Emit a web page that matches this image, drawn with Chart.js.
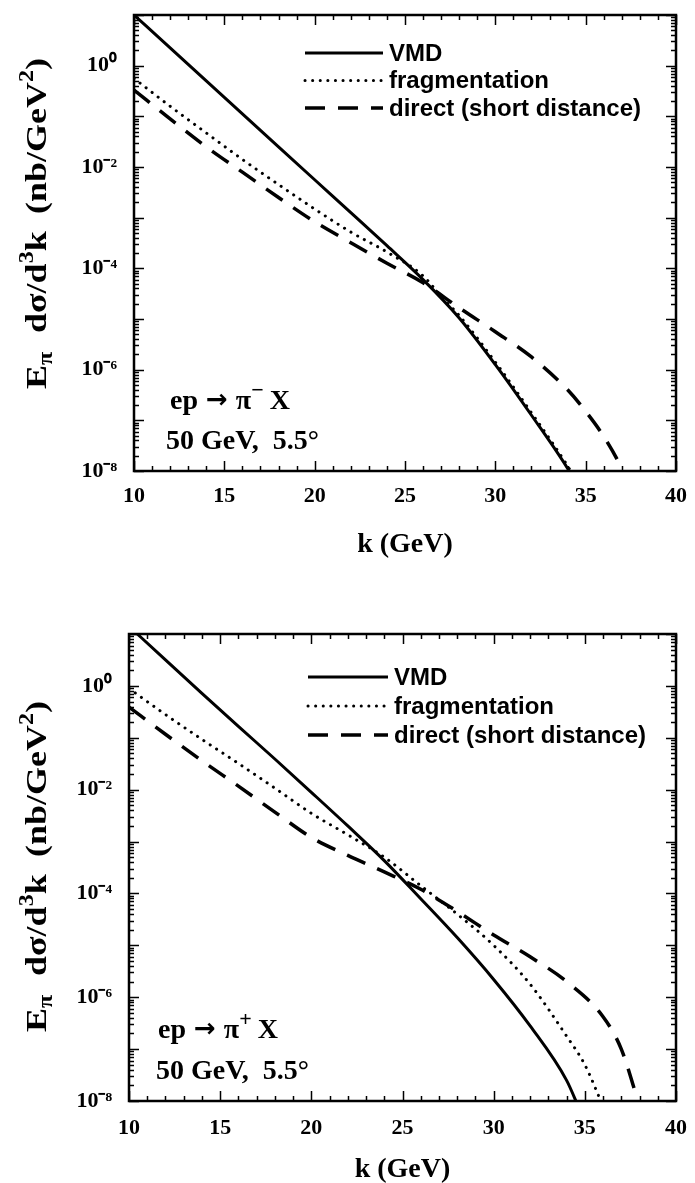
<!DOCTYPE html>
<html><head><meta charset="utf-8">
<script src="https://cdn.jsdelivr.net/npm/chart.js@4.4.0/dist/chart.umd.min.js"></script>
<style>
html,body{margin:0;padding:0;background:#fff;}
#wrap{position:relative;width:695px;height:1183px;overflow:hidden;background:#fff;}
canvas{position:absolute;left:0;}
</style></head><body>
<div id="wrap">
<canvas id="cTop" width="695" height="590" style="top:0"></canvas>
<canvas id="cBot" width="695" height="593" style="top:590px"></canvas>
</div>
<script>
// ---------- data ----------
const xTickValues = [10, 15, 20, 25, 30, 35, 40];
const yTickValues = [1e0, 1e-2, 1e-4, 1e-6, 1e-8];
const yTickLabels = ['10⁰', '10⁻²', '10⁻⁴', '10⁻⁶', '10⁻⁸'];
const seriesLabels = ['VMD', 'fragmentation', 'direct (short distance)'];
const xTitle = 'k (GeV)';
const yTitleParts = ['E', 'π', 'dσ/d', '3', 'k', '(nb/GeV', '2', ')'];
const reactionParts = ['ep', '→', 'π', 'X'];
const energyText = '50 GeV,  5.5°';

// panel 1 : ep -> pi- X
const kVmdMinus   = [10, 12, 14, 16, 18, 20, 22, 24, 26, 28, 30, 32, 34, 34.4];
const vmdMinus    = [10, 2.24, 0.50, 0.112, 0.025, 5.6e-3, 1.26e-3, 2.8e-4, 6.0e-5, 1.05e-5, 1.26e-6, 1.26e-7, 1.12e-8, 6.3e-9];
const kFragMinus  = [10, 12, 14, 16, 18, 20, 22, 24, 26, 27, 28, 30, 32, 34, 34.5];
const fragMinus   = [0.56, 0.158, 0.047, 0.0141, 4.5e-3, 1.48e-3, 5.2e-4, 2.1e-4, 7.1e-5, 2.8e-5, 1.17e-5, 1.41e-6, 1.41e-7, 1.26e-8, 6.3e-9];
const kDirMinus   = [10, 12, 14, 16, 18, 20, 22, 24, 26, 28, 30, 32, 34, 35, 36, 37, 37.3];
const dirMinus    = [0.33, 0.089, 0.025, 7.9e-3, 2.5e-3, 8.3e-4, 3.2e-4, 1.26e-4, 5.2e-5, 1.66e-5, 5.6e-6, 1.78e-6, 4.0e-7, 1.5e-7, 4.8e-8, 1.12e-8, 6.3e-9];

// panel 2 : ep -> pi+ X
const kVmdPlus    = [10, 12, 14, 16, 18, 20, 22, 24, 26, 28, 30, 32, 34, 34.7];
const vmdPlus     = [14.1, 3.16, 0.72, 0.166, 0.039, 8.9e-3, 2.0e-3, 4.3e-4, 7.9e-5, 1.41e-5, 2.2e-6, 2.8e-7, 2.5e-8, 7.0e-9];
const kFragPlus   = [10, 12, 14, 16, 18, 20, 22, 24, 26, 28, 30, 32, 34, 35, 36];
const fragPlus    = [0.89, 0.28, 0.093, 0.032, 0.0107, 3.5e-3, 1.35e-3, 5.0e-4, 1.41e-4, 4.0e-5, 1.0e-5, 1.78e-6, 1.78e-7, 5.0e-8, 7.9e-9];
const kDirPlus    = [10, 12, 14, 16, 18, 20, 22, 24, 26, 28, 30, 32, 34, 36, 37, 38];
const dirPlus     = [0.39, 0.117, 0.036, 0.0117, 3.7e-3, 1.2e-3, 5.4e-4, 2.6e-4, 1.2e-4, 4.5e-5, 1.58e-5, 6.0e-6, 2.0e-6, 4.2e-7, 1.0e-7, 7.9e-9];

// ---------- helpers ----------
const SERIF = '"Liberation Serif", "Times New Roman", serif';
const SANS = '"Liberation Sans", Arial, Helvetica, sans-serif';

function pts(ks, vs) { return ks.map((k, i) => ({x: k, y: vs[i]})); }

function makeDatasets(kv, vv, kf, vf, kd, vd) {
  const common = {pointRadius: 0, fill: false, cubicInterpolationMode: 'monotone', borderColor: '#000'};
  return [
    Object.assign({label: seriesLabels[0], data: pts(kv, vv), borderWidth: 3}, common),
    Object.assign({label: seriesLabels[1], data: pts(kf, vf), borderWidth: 3, borderDash: [0.1, 7.5], borderCapStyle: 'round'}, common),
    Object.assign({label: seriesLabels[2], data: pts(kd, vd), borderWidth: 3.5, borderDash: [20, 13], borderCapStyle: 'butt'}, common)
  ];
}

function drawYTitle(ctx, baseX, bottomY) {
  const big = 'bold 30px ' + SERIF, small = 'bold 20px ' + SERIF;
  const P = yTitleParts;
  const groups = [
    {at: 0,   pieces: [[P[0], big, 0], [P[1], small, 6]]},
    {at: 56,  pieces: [[P[2], big, 0], [P[3], small, -13], [P[4], big, 0]]},
    {at: 175, pieces: [[P[5], big, 0], [P[6], small, -13], [P[7], big, 0]]}
  ];
  const s = 1.2;
  ctx.save();
  ctx.translate(baseX, bottomY);
  ctx.rotate(-Math.PI / 2);
  ctx.scale(s, 1);
  ctx.fillStyle = '#000';
  ctx.textAlign = 'left';
  ctx.textBaseline = 'alphabetic';
  for (const g of groups) {
    let x = g.at / s;
    for (const [t, f, dy] of g.pieces) {
      ctx.font = f;
      ctx.fillText(t, x, dy);
      x += ctx.measureText(t).width;
    }
  }
  ctx.restore();
}

function drawReaction(ctx, x, y, sign) {
  const R = reactionParts;
  const big = 'bold 28px ' + SERIF;
  const pieces = [
    [R[0], big, 0, 8],
    [R[1], 'bold 26px "DejaVu Sans", ' + SANS, -1, 8],
    [R[2], big, 0, 0],
    [sign, 'bold 22px ' + SERIF, -12, 6],
    [R[3], big, 0, 0]
  ];
  ctx.save();
  ctx.fillStyle = '#000';
  ctx.textAlign = 'left';
  ctx.textBaseline = 'alphabetic';
  let cx = x;
  for (const [t, f, dy, gap] of pieces) {
    ctx.font = f;
    ctx.fillText(t, cx, y + dy);
    cx += ctx.measureText(t).width + gap;
  }
  ctx.restore();
}

const decor = {
  id: 'decor',
  afterDraw(chart, args, o) {
    const {ctx, chartArea: a, scales: {x, y}} = chart;
    ctx.save();
    ctx.strokeStyle = '#000';
    ctx.lineCap = 'butt';
    // inward tick marks (x: every 1 GeV, long at 5 GeV)
    ctx.lineWidth = 1.5;
    for (let k = x.min; k <= x.max; k++) {
      const px = Math.round(x.getPixelForValue(k)) + 0.5;
      const L = (k % 5 === 0) ? 10 : 5;
      ctx.beginPath();
      ctx.moveTo(px, a.bottom); ctx.lineTo(px, a.bottom - L);
      ctx.moveTo(px, a.top); ctx.lineTo(px, a.top + L);
      ctx.stroke();
    }
    // y: decades long, 2..9 short
    for (let e = -8; e <= 1; e++) {
      for (let m = 1; m <= 9; m++) {
        const v = m * Math.pow(10, e);
        if (v > y.max * 1.0001) break;
        const py = Math.round(y.getPixelForValue(v)) + 0.5;
        const L = (m === 1) ? 10 : 5;
        ctx.beginPath();
        ctx.moveTo(a.left, py); ctx.lineTo(a.left + L, py);
        ctx.moveTo(a.right, py); ctx.lineTo(a.right - L, py);
        ctx.stroke();
      }
    }
    // frame
    ctx.lineWidth = 2.5;
    ctx.strokeRect(a.left, a.top, a.right - a.left, a.bottom - a.top);

    // legend
    const ds = chart.data.datasets;
    ds.forEach((d, i) => {
      const ly = a.top + o.legTop + i * o.legGap;
      const lx0 = a.left + o.legX;
      ctx.save();
      ctx.lineWidth = d.borderWidth;
      ctx.lineCap = d.borderCapStyle || 'butt';
      ctx.setLineDash(d.borderDash || []);
      ctx.beginPath();
      ctx.moveTo(lx0, ly); ctx.lineTo(lx0 + o.legLen, ly);
      ctx.stroke();
      ctx.restore();
      ctx.fillStyle = '#000';
      ctx.font = 'bold 24px ' + SANS;
      ctx.textAlign = 'left';
      ctx.textBaseline = 'middle';
      ctx.fillText(d.label, lx0 + o.legLen + 6, ly + 1);
    });

    // annotations
    drawReaction(ctx, a.left + o.reacX, a.bottom - o.reacDy, o.sign);
    ctx.font = 'bold 28px ' + SERIF;
    ctx.fillStyle = '#000';
    ctx.textAlign = 'left';
    ctx.textBaseline = 'alphabetic';
    ctx.fillText(energyText, a.left + o.enX, a.bottom - o.enDy);

    // y title
    drawYTitle(ctx, o.titleX, o.titleBottom);
    ctx.restore();
  }
};

function makeChart(id, datasets, cfg) {
  return new Chart(document.getElementById(id), {
    type: 'line',
    data: {datasets},
    plugins: [decor],
    options: {
      responsive: false,
      animation: false,
      events: [],
      layout: {padding: {left: 0, right: cfg.padRight, top: cfg.padTop, bottom: 0}},
      plugins: {legend: {display: false}, tooltip: {enabled: false}, decor: cfg.decor},
      scales: {
        x: {
          type: 'linear', min: 10, max: 40,
          grid: {display: false, drawTicks: false},
          border: {display: false},
          afterBuildTicks: s => { s.ticks = xTickValues.map(v => ({value: v})); },
          afterFit: s => { s.height = cfg.xAxisH; s.paddingLeft = 0; s.paddingRight = 0; },
          ticks: {padding: cfg.xTickPad, color: '#000', maxRotation: 0, autoSkip: false,
                  font: {family: SERIF, size: 22, weight: 'bold'}},
          title: {display: true, text: xTitle, color: '#000',
                  font: {family: SERIF, size: 28, weight: 'bold', lineHeight: 1},
                  padding: {top: 0, bottom: cfg.xTitlePad}}
        },
        y: {
          type: 'logarithmic', min: 1e-8, max: 10,
          grid: {display: false, drawTicks: false},
          border: {display: false},
          afterBuildTicks: s => { s.ticks = yTickValues.map(v => ({value: v})); },
          afterFit: s => { s.width = cfg.yAxisW; s.paddingTop = 0; s.paddingBottom = 0; },
          ticks: {
            padding: 17, color: '#000', autoSkip: false,
            font: {family: SERIF, size: 22, weight: 'bold'},
            callback: v => {
              const i = yTickValues.findIndex(t => Math.abs(Math.log10(t) - Math.log10(v)) < 1e-6);
              return i >= 0 ? yTickLabels[i] : '';
            }
          }
        }
      }
    }
  });
}

makeChart('cTop', makeDatasets(kVmdMinus, vmdMinus, kFragMinus, fragMinus, kDirMinus, dirMinus), {
  padTop: 15, padRight: 19, yAxisW: 134, xAxisH: 119, xTickPad: 12, xTitlePad: 31,
  decor: {legX: 171, legTop: 38, legGap: 27.5, legLen: 78, sign: '−',
          reacX: 36, reacDy: 62, enX: 32, enDy: 22, titleX: 46, titleBottom: 389}
});

makeChart('cBot', makeDatasets(kVmdPlus, vmdPlus, kFragPlus, fragPlus, kDirPlus, dirPlus), {
  padTop: 44, padRight: 19, yAxisW: 129, xAxisH: 82, xTickPad: 14, xTitlePad: -1,
  decor: {legX: 179, legTop: 43, legGap: 29, legLen: 80, sign: '+',
          reacX: 29, reacDy: 63, enX: 27, enDy: 22, titleX: 46, titleBottom: 442}
});
</script>
</body></html>
